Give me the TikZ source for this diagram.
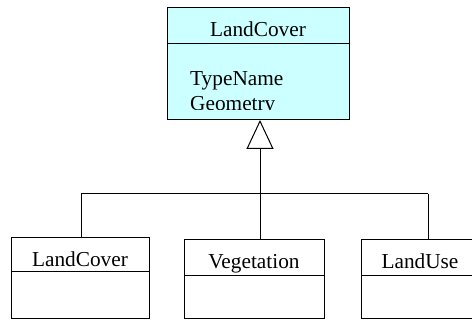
\documentclass[tikz,border=0pt]{standalone}
\usepackage{fontspec}
\setmainfont{Liberation Serif}
\usetikzlibrary{arrows.meta}
\definecolor{cyanfill}{HTML}{CCFFFF}
\tikzset{
  umlbox/.style={draw=black, line width=1pt, rectangle, inner sep=0pt, anchor=north west},
  title/.style={font=\fontsize{21.3}{25}\selectfont, anchor=base, inner sep=0pt},
  attr/.style={font=\fontsize{21.3}{25}\selectfont, anchor=base west, inner sep=0pt},
  link/.style={draw=black, line width=1pt},
  divider/.style={draw=black, line width=1pt}
}
\begin{document}
\begin{tikzpicture}[x=1pt,y=-1pt]
\useasboundingbox (0,0) rectangle (472,320);
% top class
\node[umlbox, fill=cyanfill, minimum width=182pt, minimum height=112pt] (top) at (167,7) {};
\draw[divider] (top.west |- 0,44) -- (top.east |- 0,44);
\node[title] (toptitle) at (258,37) {LandCover};
\begin{scope}
\clip (168,45) rectangle (348,109.5);
\node[attr] (attr1) at (190,86) {TypeName};
\node[attr] (attr2) at (190,111) {Geometry};
\end{scope}
% child classes
\node[umlbox, minimum width=138pt, minimum height=81pt] (c1) at (11,237) {};
\draw[divider] (c1.west |- 0,272) -- (c1.east |- 0,272);
\node[title] (t1) at (80,267) {LandCover};
\node[umlbox, minimum width=140pt, minimum height=79pt] (c2) at (184,239) {};
\draw[divider] (c2.west |- 0,276) -- (c2.east |- 0,276);
\node[title] (t2) at (254,269) {Vegetation};
\node[umlbox, minimum width=120pt, minimum height=79pt] (c3) at (361,239) {};
\draw[divider] (c3.west |- 0,276) -- (c3.east |- 0,276);
\node[title] (t3) at (420,269) {LandUse};
% connectors
\coordinate (j) at (260,194);
\coordinate (jl) at (81,194);
\coordinate (jr) at (428,194);
\draw[link, -{Triangle[open, length=29pt, width=27pt, line width=1pt]}] (j) -- (top.south -| j);
\draw[link] (jl) -- (jr);
\draw[link] (jl) -- (c1.north -| jl);
\draw[link] (j) -- (c2.north -| j);
\draw[link] (jr) -- (c3.north -| jr);
\end{tikzpicture}
\end{document}
